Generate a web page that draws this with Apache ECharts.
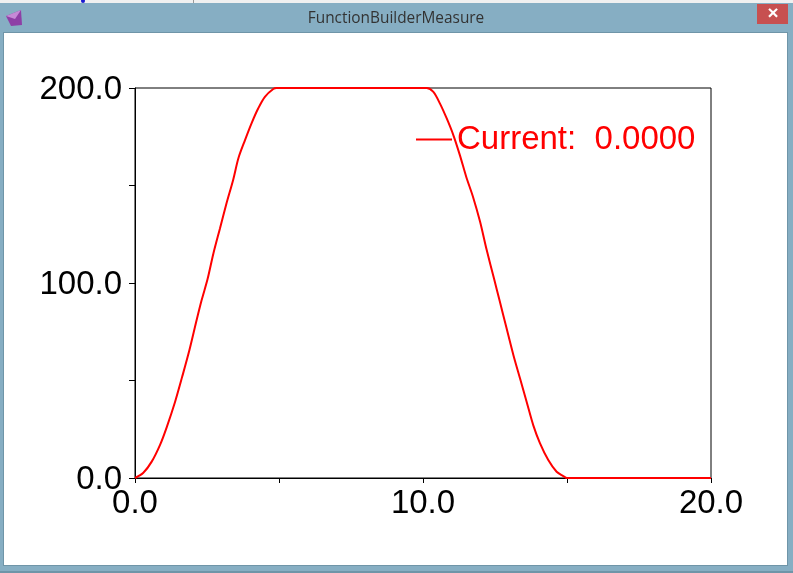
<!DOCTYPE html>
<html>
<head>
<meta charset="utf-8">
<style>html,body{margin:0;padding:0;background:#fff}#c{width:793px;height:573px}</style>
<script src="https://cdn.jsdelivr.net/npm/echarts@6/dist/echarts.min.js"></script>
</head>
<body>
<div id="c"></div>
<script>
var windowTitle = 'FunctionBuilderMeasure';
var seriesName = 'Current:  0.0000';
var xValues = [0, 0.29, 0.58, 0.87, 1.1, 1.39, 1.64, 1.89, 2.14, 2.31, 2.52, 2.72, 2.95, 3.18, 3.41, 3.59, 3.82, 4.05, 4.28, 4.51, 4.8, 4.92, 5.3, 9.8, 10.13, 10.36, 10.59, 10.82, 11.05, 11.28, 11.5, 11.74, 11.98, 12.21, 12.47, 12.67, 12.9, 13.14, 13.37, 13.6, 13.83, 14.06, 14.35, 14.64, 14.87, 15, 15.4, 20];
var yValues = [0, 2.7, 8.4, 17, 26, 39, 52, 65.6, 81, 91, 102, 115, 128, 141, 153, 164, 173.3, 182, 189.6, 195.5, 199.5, 200, 200, 200, 200, 198, 192, 184.5, 176, 165.6, 154.5, 144, 131.5, 117, 102, 90.4, 76.9, 63, 51, 39, 27, 17.9, 9.2, 3.2, 1, 0, 0, 0];
var xLabels = [0, 10, 20];
var yLabels = [0, 100, 200];

var chrome = '#86aec3', edge = '#6f95a8';
function rect(x, y, w, h, fill) {
  return {type: 'rect', silent: true, shape: {x: x, y: y, width: w, height: h}, style: {fill: fill}};
}
var chart = echarts.init(document.getElementById('c'), null, {renderer: 'canvas'});
chart.setOption({
  animation: false,
  backgroundColor: '#fff',
  textStyle: {fontFamily: '"Liberation Sans", Arial, sans-serif'},
  graphic: [
    rect(0, 0, 793, 33, chrome),
    rect(0, 33, 4, 540, chrome),
    rect(787, 33, 6, 540, chrome),
    rect(0, 565, 793, 8, chrome),
    rect(3, 33, 1, 533, edge),
    rect(787, 33, 1, 533, edge),
    rect(3, 32, 785, 1, edge),
    rect(3, 565, 785, 1, edge),
    rect(0, 571, 793, 2, edge),
    rect(0, 0, 793, 3, '#f0f0f0'),
    rect(193, 0, 1, 3, '#9a9a9a'),
    {type: 'circle', silent: true, shape: {cx: 83, cy: 1, r: 2}, style: {fill: '#1a1ad0'}},
    rect(757, 4, 31, 20, '#c75050'),
    {type: 'text', silent: true, x: 773, y: 14, style: {text: '\u00d7', fill: '#fff', font: 'bold 19px "Liberation Sans"', align: 'center', verticalAlign: 'middle'}},
    {type: 'polygon', silent: true, shape: {points: [[6, 16], [21, 10], [22, 25], [11, 26]]}, style: {fill: '#8e3fa6'}},
    {type: 'polygon', silent: true, shape: {points: [[6, 16], [21, 10], [15, 19]]}, style: {fill: '#c58ad6'}},
    {type: 'text', silent: true, x: 396, y: 19, style: {text: windowTitle, fill: '#333', font: '15.4px "Open Sans"', align: 'center', verticalAlign: 'middle'}}
  ],
  grid: {left: 135, top: 88, width: 576, height: 390, show: true, borderColor: '#000', borderWidth: 1, backgroundColor: 'transparent'},
  legend: {
    show: true, left: 416, top: 123, padding: 0, itemGap: 3,
    itemWidth: 36, itemHeight: 2, icon: 'rect',
    textStyle: {color: '#f00', fontSize: 33, fontFamily: '"Liberation Sans"', padding: 0},
    data: [seriesName]
  },
  xAxis: {
    type: 'value', min: 0, max: 20, interval: 5,
    axisLine: {lineStyle: {color: '#000', width: 1}},
    axisTick: {show: true, length: 5, lineStyle: {color: '#000'}},
    splitLine: {show: false},
    axisLabel: {
      color: '#000', fontSize: 33, margin: 9, hideOverlap: false, showMinLabel: true, showMaxLabel: true,
      formatter: function (v) { return xLabels.indexOf(v) >= 0 ? v.toFixed(1) : ''; }
    }
  },
  yAxis: {
    type: 'value', min: 0, max: 200, interval: 50,
    axisLine: {show: true, lineStyle: {color: '#000', width: 1}},
    axisTick: {show: true, length: 6, lineStyle: {color: '#000'}},
    splitLine: {show: false},
    axisLabel: {
      color: '#000', fontSize: 33, margin: 13, hideOverlap: false, showMinLabel: true, showMaxLabel: true,
      rich: {v: {color: '#000', fontSize: 33, fontFamily: '"Liberation Sans"', padding: [3, 0, 0, 0]}},
      formatter: function (v) { return yLabels.indexOf(v) >= 0 ? '{v|' + v.toFixed(1) + '}' : ''; }
    }
  },
  series: [{
    name: seriesName, type: 'line', showSymbol: false, symbol: 'none', smooth: 0.3, clip: false,
    lineStyle: {color: '#f00', width: 2},
    itemStyle: {color: '#f00'},
    data: xValues.map(function (x, i) { return [x, yValues[i]]; })
  }]
});
</script>
</body>
</html>
